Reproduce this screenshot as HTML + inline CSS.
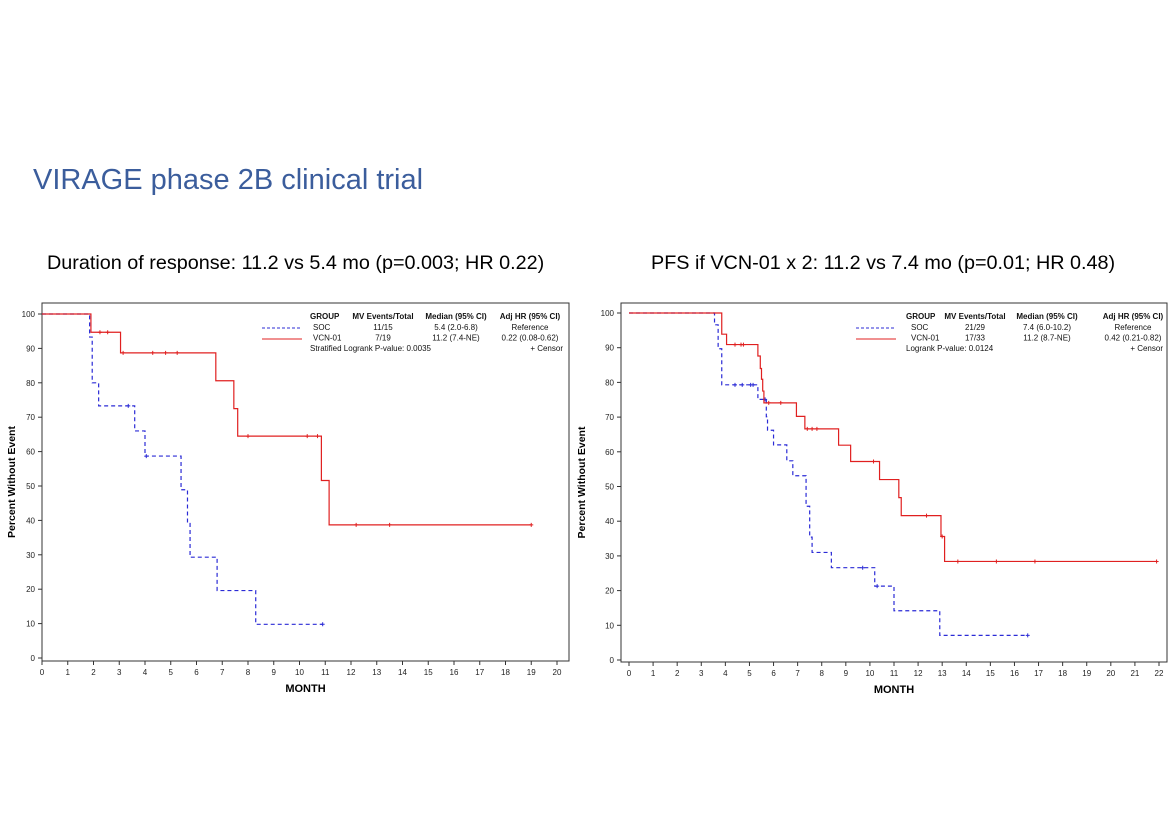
<!DOCTYPE html>
<html><head><meta charset="utf-8"><style>
body{margin:0;width:1168px;height:825px;background:#fff;overflow:hidden;font-family:"Liberation Sans",sans-serif;position:relative}
.t{position:absolute;white-space:nowrap}
</style></head><body>
<div class="t" style="left:33px;top:164px;font-size:29px;color:#3b5d9c">VIRAGE phase 2B clinical trial</div>
<div class="t" style="left:47px;top:252px;font-size:19.8px;color:#000">Duration of response: 11.2 vs 5.4 mo (p=0.003; HR 0.22)</div>
<div class="t" style="left:651px;top:252px;font-size:19.8px;color:#000">PFS if VCN-01 x 2: 11.2 vs 7.4 mo (p=0.01; HR 0.48)</div>
<svg id="svg" width="1168" height="825" style="position:absolute;left:0;top:0" font-family="Liberation Sans, sans-serif"></svg>
<script>
// Left chart data (duration of response)
const L_socT=[1.85,1.95,2.2,3.6,4.0,5.4,5.65,5.75,6.8,8.3];
const L_socS=[93.3,80,73.3,66,58.7,48.9,39.1,29.3,19.6,9.8];
const L_socEnd=10.9;
const L_socCens=[3.35,4.05,10.9];
const L_vcnT=[1.9,3.05,6.75,7.45,7.6,10.85,11.15];
const L_vcnS=[94.7,88.7,80.6,72.5,64.5,51.6,38.7];
const L_vcnEnd=19.0;
const L_vcnCens=[2.25,2.55,3.15,4.3,4.8,5.25,8.0,10.3,10.7,12.2,13.5,19.0];
const L_xTicks=[0,1,2,3,4,5,6,7,8,9,10,11,12,13,14,15,16,17,18,19,20];
// Right chart data (PFS)
const R_socT=[3.55,3.7,3.85,5.35,5.7,5.75,6.0,6.55,6.8,7.35,7.5,7.6,8.4,10.2,11.0,12.9];
const R_socS=[96.6,89.7,79.3,75.1,70.1,66.2,62.0,57.4,53.1,44.3,35.4,31.0,26.6,21.3,14.2,7.1];
const R_socEnd=16.55;
const R_socCens=[4.4,4.7,5.05,5.15,5.65,9.7,10.3,16.55];
const R_vcnT=[3.85,4.05,5.35,5.45,5.5,5.55,5.6,6.95,7.3,8.7,9.2,10.4,11.2,11.3,12.95,13.1];
const R_vcnS=[93.9,90.9,87.6,84.0,80.9,77.5,74.1,70.2,66.6,61.9,57.2,52.0,46.8,41.6,35.6,28.4];
const R_vcnEnd=21.9;
const R_vcnCens=[4.4,4.65,4.75,5.8,6.3,7.4,7.6,7.8,10.15,12.35,13.0,13.65,15.25,16.85,21.9];
const R_xTicks=[0,1,2,3,4,5,6,7,8,9,10,11,12,13,14,15,16,17,18,19,20,21,22];
const yTicks=[0,10,20,30,40,50,60,70,80,90,100];

const svg=document.getElementById('svg');
const NS='http://www.w3.org/2000/svg';
function mk(tag,attrs,parent){const e=document.createElementNS(NS,tag);for(const k in attrs)e.setAttribute(k,attrs[k]);(parent||svg).appendChild(e);return e;}
function txt(s,attrs,parent){const e=mk('text',attrs,parent);e.textContent=s;return e;}

function chart(cfg){
  const g=mk('g',{});
  
  
  const xs=v=>cfg.x0+v*(cfg.x1-cfg.x0)/cfg.xmax;
  const ys=v=>cfg.y0+(100-v)*(cfg.yb-cfg.y0)/100;
  const f=mk('rect',{x:cfg.fl,y:cfg.ft,width:cfg.fr-cfg.fl,height:cfg.fb-cfg.ft,fill:'none',stroke:'#333','stroke-width':1},g);
  
  
  cfg.xTicks.forEach(t=>{
    mk('line',{x1:xs(t),x2:xs(t),y1:cfg.fb,y2:cfg.fb+4,stroke:'#333'},g);
    const l=txt(String(t),{x:xs(t),y:cfg.fb+14,'font-size':8,'text-anchor':'middle',fill:'#222'},g);
    
    
  });
  yTicks.forEach(t=>{
    mk('line',{x1:cfg.fl-4,x2:cfg.fl,y1:ys(t),y2:ys(t),stroke:'#333'},g);
    const l=txt(String(t),{x:cfg.fl-7,y:ys(t)+3,'font-size':8,'text-anchor':'end',fill:'#222'},g);
    
    
  });
  const xt=txt('MONTH',{x:(cfg.fl+cfg.fr)/2,y:cfg.fb+31,'font-size':11,'font-weight':'bold','text-anchor':'middle'},g);
  
  
  const yc=(cfg.ft+cfg.fb)/2;
  const yt=txt('Percent Without Event',{x:cfg.ytx,y:yc,'font-size':10.5,'font-weight':'bold','text-anchor':'middle',transform:`rotate(-90 ${cfg.ytx} ${yc})`},g);
  
  
  function series(T,S,end,cens,color,dash,name){
    let d=`M${xs(0)},${ys(100)}`;let cur=100;
    T.forEach((t,i)=>{d+=` L${xs(t)},${ys(cur)} L${xs(t)},${ys(S[i])}`;cur=S[i];});
    d+=` L${xs(end)},${ys(cur)}`;
    const p=mk('path',{d,fill:'none',stroke:color,'stroke-width':1.2,'stroke-dasharray':dash},g);
    
    
    cens.forEach(c=>{
      let s=100;T.forEach((t,i)=>{if(t<=c)s=S[i];});
      const m=mk('path',{d:`M${xs(c)-2},${ys(s)} h4 M${xs(c)},${ys(s)-2} v4`,stroke:color,'stroke-width':1},g);
      
      
    });
  }
  series(cfg.socT,cfg.socS,cfg.socEnd,cfg.socCens,'#2b2bd6','4,3','soc');
  series(cfg.vcnT,cfg.vcnS,cfg.vcnEnd,cfg.vcnCens,'#e02020','none','vcn01');
  // legend
  const lg=mk('g',{'font-size':8,fill:'#111'},g);
  
  
  const L=cfg.leg;
  const H=['GROUP','MV Events/Total','Median (95% CI)','Adj HR (95% CI)'];
  H.forEach((h,i)=>txt(h,{x:L.h[i],y:L.y,'font-weight':'bold','text-anchor':i==0?'start':'middle'},lg));
  mk('line',{x1:L.lx,x2:L.lx+40,y1:L.y+9,y2:L.y+9,stroke:'#2b2bd6','stroke-dasharray':'3,2'},lg);
  mk('line',{x1:L.lx,x2:L.lx+40,y1:L.y+20,y2:L.y+20,stroke:'#e02020'},lg);
  L.rows.forEach((r,i)=>{
    const y=L.y+11+i*10.5;
    txt(r[0],{x:L.c[0],y},lg);txt(r[1],{x:L.c[1],y,'text-anchor':'middle'},lg);
    txt(r[2],{x:L.c[2],y,'text-anchor':'middle'},lg);txt(r[3],{x:L.c[3],y,'text-anchor':'middle'},lg);
  });
  txt(L.p,{x:L.h[0],y:L.y+32},lg);
  txt('+  Censor',{x:L.rx,y:L.y+32,'text-anchor':'end'},lg);
}

chart({name:'left-km-chart',fl:42,fr:569,ft:303,fb:661,x0:42,x1:557,xmax:20,y0:314,yb:658,
  xTicks:L_xTicks,ytx:15,socT:L_socT,socS:L_socS,socEnd:L_socEnd,socCens:L_socCens,
  vcnT:L_vcnT,vcnS:L_vcnS,vcnEnd:L_vcnEnd,vcnCens:L_vcnCens,
  leg:{h:[310,383,456,530],y:319,lx:262,rx:563,c:[313,383,456,530],p:'Stratified Logrank P-value: 0.0035',
    rows:[['  SOC','11/15','5.4 (2.0-6.8)','Reference'],['VCN-01','7/19','11.2 (7.4-NE)','0.22 (0.08-0.62)']]}});
chart({name:'right-km-chart',fl:621,fr:1167,ft:303,fb:662,x0:629,x1:1159,xmax:22,y0:313,yb:660,
  xTicks:R_xTicks,ytx:585,socT:R_socT,socS:R_socS,socEnd:R_socEnd,socCens:R_socCens,
  vcnT:R_vcnT,vcnS:R_vcnS,vcnEnd:R_vcnEnd,vcnCens:R_vcnCens,
  leg:{h:[906,975,1047,1133],y:319,lx:856,rx:1163,c:[911,975,1047,1133],p:'Logrank P-value: 0.0124',
    rows:[['SOC','21/29','7.4 (6.0-10.2)','Reference'],['VCN-01','17/33','11.2 (8.7-NE)','0.42 (0.21-0.82)']]}});
</script>
</body></html>
